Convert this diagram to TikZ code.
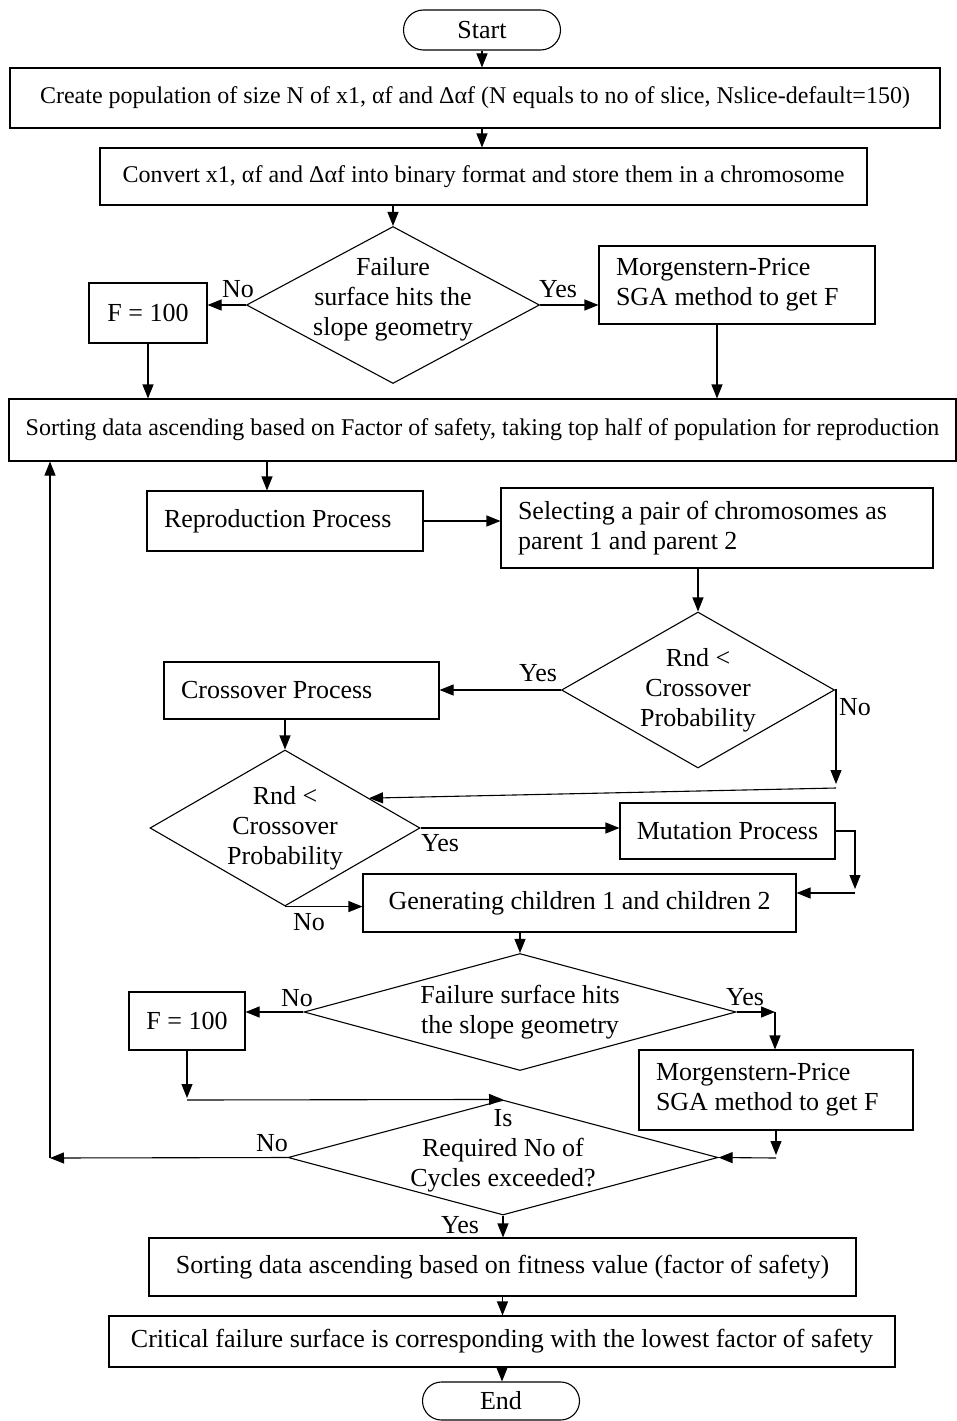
\documentclass[tikz,border=0pt]{standalone}
\usepackage{fontspec}
\setmainfont{Liberation Serif}
\usetikzlibrary{shapes.geometric,shapes.misc,arrows.meta,calc}
\begin{document}
\begin{tikzpicture}[x=1pt,y=-1pt, line width=1.1pt,
 every node/.style={font=\fontsize{26}{30}\selectfont},
 small/.style={font=\fontsize{24}{30}\selectfont},
 box/.style={draw, rectangle, inner sep=0pt, align=center},
 lbox/.style={draw, rectangle, inner xsep=17pt, inner ysep=0pt, align=flush left},
 dia/.style={draw, diamond, inner sep=0pt},
 term/.style={draw, rounded rectangle, inner sep=0pt},
 arr/.style={-{Triangle[length=14pt,width=11pt]}},
 lab/.style={inner sep=0pt}]
\useasboundingbox (0,0) rectangle (957,1421);

% nodes
\node[term, minimum width=157pt, minimum height=40pt] (start) at (482,30) {Start};
\node[box, small, minimum width=930pt, minimum height=60pt] (create) at (475,98) {Create population of size N of x1, αf and Δαf (N equals to no of slice, Nslice-default=150)};
\node[box, small, minimum width=767pt, minimum height=57pt] (conv) at (483.5,176.5) {Convert x1, αf and Δαf into binary format and store them in a chromosome};
\node[dia, minimum width=293pt, minimum height=157pt,
  label={[align=center,yshift=6pt]center:Failure\\surface hits the\\slope geometry}] (d1) at (393,305) {};
\node[box, minimum width=118pt, minimum height=60pt] (f1) at (148,313) {F = 100};
\node[lbox, text width=242pt, minimum height=78pt] (mp1) at (737,285) {Morgenstern-Price\\SGA method to get F};
\node[box, small, minimum width=947pt, minimum height=62pt] (sort1) at (482.5,430) {Sorting data ascending based on Factor of safety, taking top half of population for reproduction};
\node[lbox, text width=242pt, minimum height=60pt] (repro) at (285,521) {Reproduction Process};
\node[lbox, text width=398pt, minimum height=80pt] (sel) at (717,528) {Selecting a pair of chromosomes as\\parent 1 and parent 2};
\node[dia, minimum width=273pt, minimum height=156pt,
  label={[align=center]center:Rnd <\\Crossover\\Probability}] (d2) at (698,690) {};
\node[lbox, text width=241pt, minimum height=57pt] (cross) at (301.5,690.5) {Crossover Process};
\node[dia, minimum width=270pt, minimum height=156pt,
  label={[align=center]center:Rnd <\\Crossover\\Probability}] (d3) at (285,828) {};
\node[box, minimum width=215pt, minimum height=56pt] (mut) at (727.5,831) {Mutation Process};
\node[box, minimum width=433pt, minimum height=58pt] (gen) at (579.5,903) {Generating children 1 and children 2};
\node[dia, minimum width=432pt, minimum height=117pt,
  label={[align=center]center:Failure surface hits\\the slope geometry}] (d4) at (520,1012) {};
\node[box, minimum width=116pt, minimum height=58pt] (f2) at (187,1021) {F = 100};
\node[lbox, text width=240pt, minimum height=80pt] (mp2) at (776,1090) {Morgenstern-Price\\SGA method to get F};
\node[dia, minimum width=430pt, minimum height=115pt,
  label={[align=center,yshift=7pt]center:Is\\Required No of\\Cycles exceeded?}] (d5) at (503,1157.5) {};
\node[box, minimum width=707pt, minimum height=58pt] (sort2) at (502.5,1267) {Sorting data ascending based on fitness value (factor of safety)};
\node[box, minimum width=786pt, minimum height=51pt] (crit) at (502,1341.5) {Critical failure surface is corresponding with the lowest factor of safety};
\node[term, minimum width=157pt, minimum height=38pt] (end) at (501,1401) {End};

% helper coordinates
\coordinate (n2a) at (836,788);
\coordinate (d3in) at ($(d3.north)!0.62!(d3.east)$);
\coordinate (mg) at (855,893);
\coordinate (y4) at (775,1012);
\coordinate (f2c) at (185,1100);
\coordinate (m2c) at (776,1158);
\coordinate (back) at (50,1158);

% connectors
\draw[arr] (start.south) -- (start.south |- create.north);
\draw[arr] (start.south |- create.south) -- (start.south |- conv.north);
\draw[arr] (d1.north |- conv.south) -- (d1.north);
\draw[arr] (d1.west) -- (d1.west -| f1.east);
\draw[arr] (d1.east) -- (d1.east -| mp1.west);
\draw[arr] (f1.south) -- (f1.south |- sort1.north);
\draw[arr] ([xshift=-20pt]mp1.south) -- ([xshift=-20pt]mp1.south |- sort1.north);
\draw[arr] ([xshift=-18pt]repro.north |- sort1.south) -- ([xshift=-18pt]repro.north);
\draw[arr] (repro.east) -- (repro.east -| sel.west);
\draw[arr] (d2.north |- sel.south) -- (d2.north);
\draw[arr] (d2.west) -- (d2.west -| cross.east);
\draw[arr] (d2.east) -- (d2.east -| n2a) -- ([yshift=4pt]n2a);
\draw[arr] (n2a) -- (d3in);
\draw[arr] (d3.north |- cross.south) -- (d3.north);
\draw[arr] (d3.east) -- (d3.east -| mut.west);
\draw[arr] (mut.east) -| ([yshift=4pt]mg);
\draw[arr] (mg) -- (mg -| gen.east);
\draw[arr] (d3.south) -- (d3.south -| gen.west);
\draw[arr] (d4.north |- gen.south) -- (d4.north);
\draw[arr] (d4.west) -- (d4.west -| f2.east);
\draw[arr] (d4.east) -- (y4);
\draw[arr] (y4) -- (y4 |- mp2.north);
\draw[arr] (f2.south) -- ([yshift=2pt]f2.south |- f2c);
\draw[arr] (f2.south |- f2c) -- (d5.north);
\draw[arr] (mp2.south) -- ([yshift=3pt]m2c);
\draw[arr] (m2c) -- (d5.east);
\draw[arr] (d5.west) -- (back);
\draw[arr] (back) -- (back |- sort1.south);
\draw[arr] (d5.south) -- (d5.south |- sort2.north);
\draw[arr] (sort2.south) -- (sort2.south |- crit.north);
\draw[arr] (crit.south) -- (crit.south |- end.north);

% branch labels
\node[lab] (l1n) at (238,289) {No};
\node[lab] (l1y) at (558,289) {Yes};
\node[lab] (l2y) at (538,673) {Yes};
\node[lab] (l2n) at (855,707) {No};
\node[lab] (l3y) at (440,843) {Yes};
\node[lab] (l3n) at (309,922) {No};
\node[lab] (l4n) at (297,998) {No};
\node[lab] (l4y) at (745,997) {Yes};
\node[lab] (l5n) at (272,1143) {No};
\node[lab] (l5y) at (460,1225) {Yes};
\end{tikzpicture}
\end{document}
